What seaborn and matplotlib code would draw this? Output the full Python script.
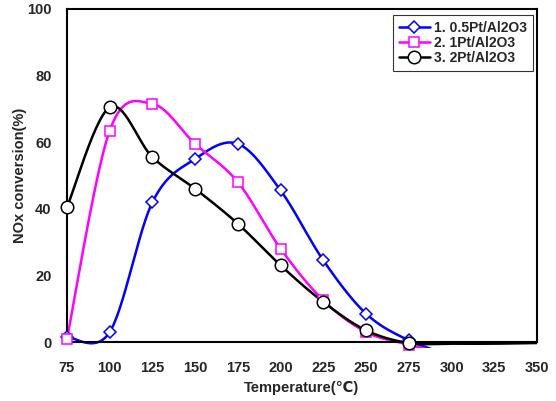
import numpy as np
import pandas as pd
import matplotlib
matplotlib.use("Agg")
import matplotlib.pyplot as plt
import seaborn as sns
from matplotlib.lines import Line2D
from matplotlib.patches import Rectangle

# Valeurs
temperature = [75, 100, 125, 150, 175, 200, 225, 250, 275, 300, 325, 350]
pt05 = [1.5, 3, 42, 55, 59.5, 45.5, 24.5, 8.5, 0.5, -4, None, None]
pt1 = [1, 63.5, 71.5, 59.5, 48, 28, 12.5, 3, -0.8, -4, None, None]
pt2 = [40.5, 70.5, 55.5, 46, 35.5, 23, 12, 3.5, -0.3, -0.5, -0.5, -0.3]
n_markers = 9  # marqueurs visibles de 75 à 275

labels = ["1. 0.5Pt/Al2O3", "2. 1Pt/Al2O3", "3. 2Pt/Al2O3"]
colors = ["#0000FF", "#FF00FF", "#000000"]
markers = ["D", "s", "o"]
msizes = [6, 7.5, 9]


def smooth(xs, ys, n=30):
    # lissage type Excel (Bezier, tension 1/6)
    pts = [(x, y) for x, y in zip(xs, ys) if y is not None]
    x = np.array([p[0] for p in pts], float)
    y = np.array([p[1] for p in pts], float)
    out_x, out_y = [], []
    for i in range(len(x) - 1):
        i0 = max(i - 1, 0)
        i3 = min(i + 2, len(x) - 1)
        c1x = x[i] + (x[i + 1] - x[i0]) / 6
        c1y = y[i] + (y[i + 1] - y[i0]) / 6
        c2x = x[i + 1] - (x[i3] - x[i]) / 6
        c2y = y[i + 1] - (y[i3] - y[i]) / 6
        t = np.linspace(0, 1, n, endpoint=False)
        b0, b1, b2, b3 = (1 - t) ** 3, 3 * (1 - t) ** 2 * t, 3 * (1 - t) * t ** 2, t ** 3
        out_x.extend(b0 * x[i] + b1 * c1x + b2 * c2x + b3 * x[i + 1])
        out_y.extend(b0 * y[i] + b1 * c1y + b2 * c2y + b3 * y[i + 1])
    out_x.append(x[-1])
    out_y.append(y[-1])
    return np.array(out_x), np.array(out_y)


sns.set_style("white")
plt.rcParams["font.family"] = ["Liberation Sans", "DejaVu Sans"]
plt.rcParams["font.weight"] = "bold"

fig = plt.figure(figsize=(5.56, 4.01), dpi=100)
ax = fig.add_axes([0.1205, 0.1471, 0.8453, 0.8305])

# zone de découpe : un peu sous l'axe, comme dans l'original
clip = Rectangle((75, -1.8), 275, 102, transform=ax.transData, visible=False)
ax.add_patch(clip)

handles = []
for series, lab, col, mk, ms in zip([pt05, pt1, pt2], labels, colors, markers, msizes):
    sx, sy = smooth(temperature, series)
    df = pd.DataFrame({"T": sx, "v": sy})
    sns.lineplot(data=df, x="T", y="v", ax=ax, color=col, lw=1.8, sort=False,
                 estimator=None)
    ax.lines[-1].set_clip_path(clip)
    mdf = pd.DataFrame({"T": temperature[:n_markers], "v": series[:n_markers]})
    ax.plot(mdf["T"], mdf["v"], ls="none", marker=mk, ms=ms, mfc="white",
            mec=col, mew=1.1, clip_on=False, zorder=4)
    handles.append(Line2D([], [], color=col, lw=1.8, marker=mk, ms=ms,
                          mfc="white", mec=col, mew=1.1))

ax.set_xlim(75, 350)
ax.set_ylim(0, 100)
ax.set_xticks(range(75, 351, 25))
ax.set_yticks(range(0, 101, 20))
ax.set_yticks(range(10, 100, 20), minor=True)
ax.tick_params(axis="both", which="both", direction="in", length=5, width=1.3,
               labelsize=10.5)
ax.tick_params(axis="y", pad=11)
ax.tick_params(axis="x", pad=14)
for t in ax.get_xticklabels() + ax.get_yticklabels():
    t.set_fontweight("bold")
for sp in ax.spines.values():
    sp.set_color("black")
    sp.set_linewidth(1.5)

ax.set_xlabel("Temperature(℃)", fontsize=10.5, fontweight="bold", labelpad=4)
ax.set_ylabel("NOx conversion(%)", fontsize=10.5, fontweight="bold", labelpad=0)

leg = ax.legend(handles, labels, loc="upper right", bbox_to_anchor=(0.9915, 0.982),
                borderaxespad=0, frameon=True, fancybox=False,
                handlelength=2.2, handletextpad=0.3, labelspacing=0.05,
                borderpad=0.45, prop={"weight": "bold", "size": 10})
leg.get_frame().set_edgecolor("black")
leg.get_frame().set_linewidth(0.8)

fig.savefig("out.png", dpi=100)
